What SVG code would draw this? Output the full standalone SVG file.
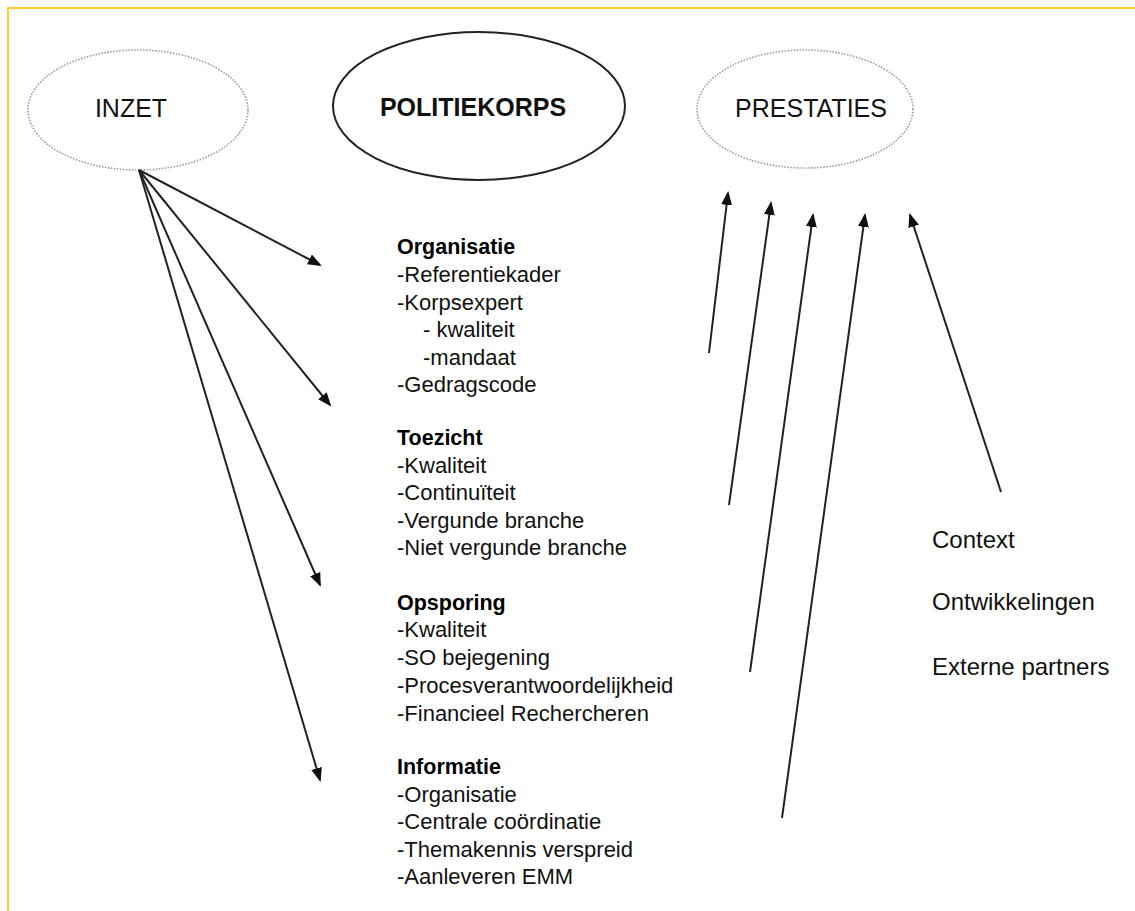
<svg xmlns="http://www.w3.org/2000/svg" width="1135" height="911" viewBox="0 0 1135 911">
<style>
.t{font-family:"Liberation Sans",Arial,sans-serif;font-size:22px;fill:#111}
.h{font-family:"Liberation Sans",Arial,sans-serif;font-size:21.5px;font-weight:bold;fill:#000}
.n{font-family:"Liberation Sans",Arial,sans-serif;font-size:25px;fill:#111}
.ctx{font-family:"Liberation Sans",Arial,sans-serif;font-size:24px;fill:#111}
.dot{fill:none;stroke:#999;stroke-width:1.6;stroke-dasharray:1.5 1.5}
.c{stroke:#222;stroke-width:2;fill:none;marker-end:url(#ah)}
</style>
<defs>
<marker id="ah" markerUnits="userSpaceOnUse" markerWidth="15" markerHeight="12" refX="12" refY="5.5" orient="auto">
<path d="M0,0 L14,5.5 L0,11 Z" fill="#111"/>
</marker>
</defs>
<rect x="0" y="0" width="1135" height="911" fill="#fff"/>
<rect x="8" y="8" width="1140" height="920" fill="none" stroke="#FFCC33" stroke-width="2"/>
<g id="inzet">
<ellipse cx="138" cy="110" rx="110" ry="60" class="dot"/>
<text x="131" y="117" class="n" text-anchor="middle">INZET</text>
</g>
<g id="politiekorps">
<ellipse cx="479" cy="106" rx="146" ry="74" fill="none" stroke="#222" stroke-width="2"/>
<text x="473" y="116" class="n" font-weight="bold" text-anchor="middle" font-size="24">POLITIEKORPS</text>
</g>
<g id="prestaties">
<ellipse cx="805" cy="109" rx="108" ry="59" class="dot"/>
<text x="811" y="117" class="n" text-anchor="middle">PRESTATIES</text>
</g>
<g id="organisatie">
<text x="397" y="254" class="h">Organisatie</text>
<text x="397" y="282" class="t">-Referentiekader</text>
<text x="397" y="310" class="t">-Korpsexpert</text>
<text x="423" y="337" class="t">- kwaliteit</text>
<text x="423" y="365" class="t">-mandaat</text>
<text x="397" y="392" class="t">-Gedragscode</text>
</g>
<g id="toezicht">
<text x="397" y="445" class="h">Toezicht</text>
<text x="397" y="473" class="t">-Kwaliteit</text>
<text x="397" y="500" class="t">-Continuïteit</text>
<text x="397" y="528" class="t">-Vergunde branche</text>
<text x="397" y="555" class="t">-Niet vergunde branche</text>
</g>
<g id="opsporing">
<text x="397" y="610" class="h">Opsporing</text>
<text x="397" y="637" class="t">-Kwaliteit</text>
<text x="397" y="665" class="t">-SO bejegening</text>
<text x="397" y="693" class="t">-Procesverantwoordelijkheid</text>
<text x="397" y="721" class="t">-Financieel Rechercheren</text>
</g>
<g id="informatie">
<text x="397" y="774" class="h">Informatie</text>
<text x="397" y="802" class="t">-Organisatie</text>
<text x="397" y="829" class="t">-Centrale coördinatie</text>
<text x="397" y="857" class="t">-Themakennis verspreid</text>
<text x="397" y="884" class="t">-Aanleveren EMM</text>
</g>
<g id="context">
<text x="932" y="548" class="ctx">Context</text>
<text x="932" y="610" class="ctx">Ontwikkelingen</text>
<text x="932" y="675" class="ctx">Externe partners</text>
</g>
<g id="connectors">
<line x1="139" y1="170" x2="320" y2="265" class="c"/>
<line x1="139" y1="170" x2="330" y2="405" class="c"/>
<line x1="139" y1="170" x2="320" y2="585" class="c"/>
<line x1="139" y1="170" x2="320" y2="780" class="c"/>
<line x1="709" y1="353" x2="728" y2="193" class="c"/>
<line x1="729" y1="505" x2="771" y2="203" class="c"/>
<line x1="750" y1="672" x2="813" y2="215" class="c"/>
<line x1="782" y1="818" x2="865" y2="215" class="c"/>
<line x1="1001" y1="492" x2="910" y2="215" class="c"/>
</g>
</svg>
